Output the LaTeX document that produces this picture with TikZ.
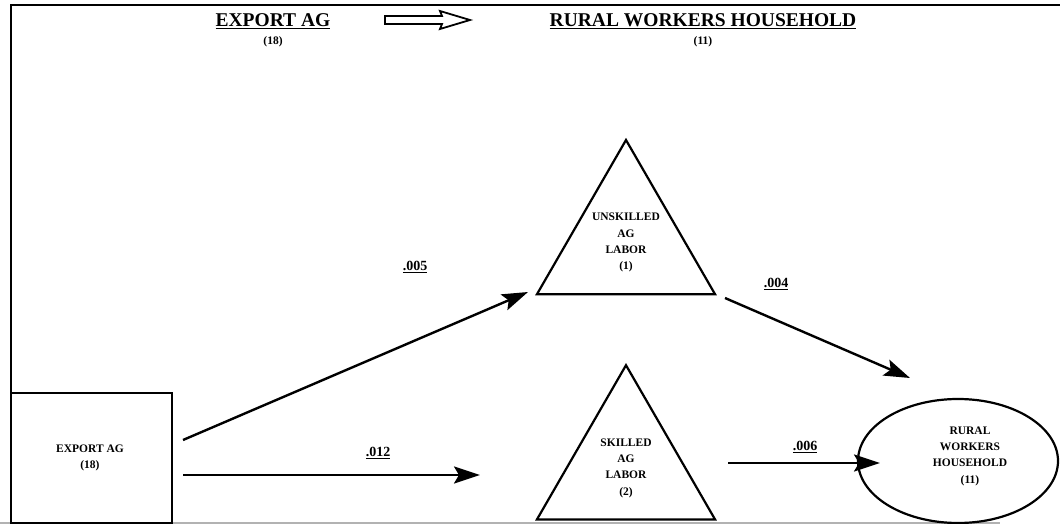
\documentclass[tikz,border=0pt]{standalone}
\usepackage{fontspec}
\setmainfont{Liberation Serif}
\usetikzlibrary{arrows.meta,shapes.geometric}
\begin{document}
\begin{tikzpicture}[x=1pt,y=-1pt,
  frameline/.style={line width=2.6pt,black},
  link/.style={line width=2.4pt,-{Stealth[length=26pt,width=17pt,inset=5pt]}},
  tri/.style={regular polygon,regular polygon sides=3,minimum size=205.6pt,
    inner sep=0pt,draw,line width=2.2pt,align=center,
    font=\bfseries\fontsize{11.5}{16.3}\selectfont},
  boxtext/.style={align=center,font=\bfseries\fontsize{11.5}{16.3}\selectfont},
  title/.style={font=\bfseries\fontsize{19.5}{22}\selectfont},
  subtitle/.style={font=\bfseries\fontsize{11.5}{13}\selectfont},
  weight/.style={font=\bfseries\fontsize{14}{16}\selectfont}]
\useasboundingbox (0,0) rectangle (1060,524);
\begin{scope}
\clip (0,0) rectangle (1060,524);
% frame
\draw[frameline] (1060,5) -- (11,5) -- (11,524);
\draw[gray!60,line width=1.2pt] (0,523) -- (1000,523);

% heading
\node[title] (htitleA) at (273,21) {\underline{EXPORT AG}};
\node[subtitle] (hnumA) at (273,42) {(18)};
\node[title] (htitleB) at (703,21) {\underline{RURAL WORKERS HOUSEHOLD}};
\node[subtitle] (hnumB) at (703,42) {(11)};
\draw[line width=1.8pt,line join=miter]
  (385,16) -- (442,16) -- (440,11) -- (470,20) -- (440,29) -- (442,24) -- (385,24) -- cycle;

% sector box
\node[draw,line width=2.2pt,minimum width=161pt,minimum height=130pt,
  inner sep=0pt] (exportbox) at (91.5,458) {};
\node[boxtext] (exporttext) at (90,458) {EXPORT AG\\(18)};

% factor triangles
\node[tri] (unskilled) at (626,242.8) {UNSKILLED\\AG\\LABOR\\(1)};
\node[tri] (skilled) at (626,468) {SKILLED\\AG\\LABOR\\(2)};

% household
\node[ellipse,draw,line width=2.2pt,minimum width=200pt,minimum height=124pt,
  inner sep=0pt] (household) at (958,461) {};
\node[boxtext] (householdtext) at (970,456) {RURAL\\WORKERS\\HOUSEHOLD\\(11)};

% connector end points
\coordinate (s1) at (183,440);
\coordinate (e1) at (528,292);
\coordinate (s2) at (183,475);
\coordinate (e2) at (480,475);
\coordinate (s3) at (725,298);
\coordinate (e3) at (910,378);
\coordinate (s4) at (728,463);
\coordinate (e4) at (880,463);

\draw[link] (s1) -- (e1);
\draw[link] (s2) -- (e2);
\draw[link] (s3) -- (e3);
\draw[link] (s4) -- (e4);

\node[weight] (w1) at (415,267) {\underline{.005}};
\node[weight] (w2) at (378,453) {\underline{.012}};
\node[weight] (w3) at (776,284) {\underline{.004}};
\node[weight] (w4) at (805,447) {\underline{.006}};
\end{scope}
\end{tikzpicture}
\end{document}
